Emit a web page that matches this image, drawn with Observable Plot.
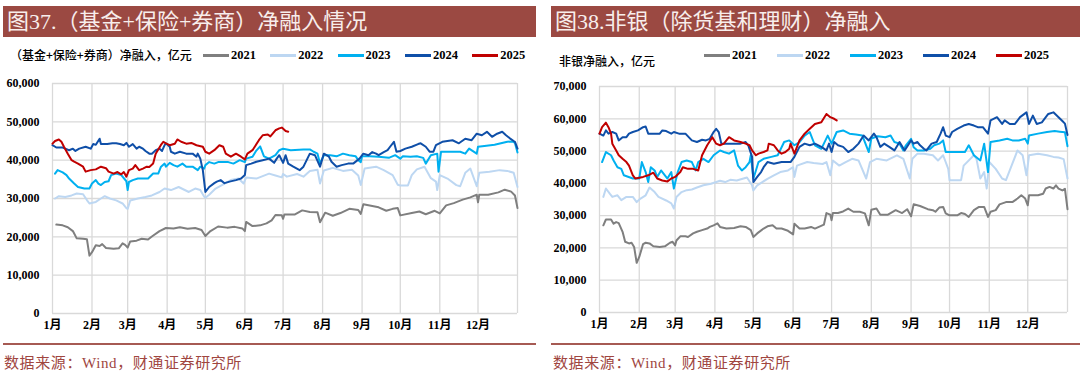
<!DOCTYPE html>
<html>
<head>
<meta charset="utf-8">
<script src="https://cdn.jsdelivr.net/npm/d3@7"></script>
<script src="https://cdn.jsdelivr.net/npm/@observablehq/plot@0.6"></script>
<style>
  html, body { margin: 0; padding: 0; background: #fff; }
  #page { position: relative; width: 1080px; height: 379px; overflow: hidden; background: #fff; }
  .bar { position: absolute; top: 6px; height: 31px; background: #9B4942; color: #F8EEEC;
         font-family: 'Liberation Serif', 'Noto Sans CJK SC', serif; font-size: 22px; line-height: 31px;
         white-space: nowrap; padding-left: 4px; box-sizing: border-box; }
  .lgtitle { position: absolute; font-family: 'Noto Sans CJK SC', sans-serif; font-size: 12px; font-weight: 500;
             color: #000; white-space: nowrap; line-height: 14px; }
  .lgitem { position: absolute; height: 14px; white-space: nowrap; }
  .lgitem .sw { position: absolute; left: 0; top: 6px; width: 26px; height: 2.5px; }
  .lgitem .tx { position: absolute; left: 28px; top: 0; font-family: 'Liberation Serif', serif; font-weight: bold;
                font-size: 12.5px; line-height: 14px; color: #000; }
  .chart { position: absolute; top: 70px; }
  .rule { position: absolute; top: 343px; height: 1.5px; background: #A65A53; }
  .src { position: absolute; top: 355px; font-family: 'Liberation Serif', 'Noto Sans CJK SC', serif; font-size: 15px;
         letter-spacing: 0.6px; color: #A0463F; white-space: nowrap; line-height: 17px; }
</style>
</head>
<body>
<div id="page"></div>
<script>
// ---------- shared labels ----------
const years = ["2021", "2022", "2023", "2024", "2025"];
const colors = ["#7F7F7F", "#BDD7F2", "#00B0F0", "#0F4FA8", "#C00000"];
const monthStarts = [0, 31, 59, 90, 120, 151, 181, 212, 243, 273, 304, 334, 365];
const monthLabels = ["1月", "2月", "3月", "4月", "5月", "6月", "7月", "8月", "9月", "10月", "11月", "12月"];
const leftTitle = "图37.（基金+保险+券商）净融入情况";
const rightTitle = "图38.非银（除货基和理财）净融入";
const leftUnit = "（基金+保险+券商）净融入，亿元";
const rightUnit = "非银净融入，亿元";
const sourceText = "数据来源：Wind，财通证券研究所";
const leftYTicks = [0, 10000, 20000, 30000, 40000, 50000, 60000];
const rightYTicks = [0, 10000, 20000, 30000, 40000, 50000, 60000, 70000];

// ---------- left chart: [day of year, 亿元] ----------
const L2021 = [[3,23200],[8,23000],[12,22500],[16,21500],[19,19600],[24,19500],[27,19400],[29,15100],[31,16000],[34,17800],[37,17600],[39,18100],[42,17100],[48,16900],[52,17000],[55,18300],[57,17900],[59,17200],[61,18800],[66,19000],[70,19500],[75,19300],[78,20100],[84,21500],[89,22300],[95,22200],[100,22500],[106,22100],[112,22300],[117,21800],[120,20200],[124,21500],[130,22700],[137,22400],[143,22600],[149,22200],[151,21500],[152,23900],[157,22800],[163,23000],[168,23500],[172,24300],[175,25700],[180,25600],[181,24700],[182,25800],[190,25800],[196,26900],[202,26500],[208,26400],[210,23800],[214,26300],[220,25500],[226,26200],[233,27300],[240,27000],[242,26000],[244,28500],[250,28100],[256,27700],[262,26800],[267,27300],[271,27500],[273,25600],[282,26200],[288,26600],[293,25900],[300,26800],[304,26100],[309,28200],[315,28800],[322,29700],[328,30300],[333,31000],[334,29000],[335,31000],[342,31000],[350,31600],[355,32300],[360,31800],[363,30800],[365,27500]];
const L2022 = [[2,30000],[5,30600],[10,30400],[15,30800],[19,31300],[24,31100],[27,29600],[29,28700],[34,29100],[38,30000],[41,30600],[45,30000],[50,29500],[55,28700],[58,27500],[59,27300],[61,29500],[67,30000],[73,30400],[78,30800],[84,31700],[88,32600],[93,32200],[99,33000],[107,31700],[112,32600],[116,32200],[119,30500],[120,30200],[123,31000],[128,32600],[133,33500],[140,34800],[146,35200],[150,33900],[152,35500],[160,35200],[170,36500],[175,36000],[180,35500],[181,36400],[184,35700],[192,36400],[197,35700],[202,37200],[208,37500],[210,33900],[213,37300],[220,38000],[228,37200],[235,37500],[240,36000],[242,33500],[245,37800],[254,38300],[260,37400],[267,36100],[271,33600],[273,33400],[279,33400],[282,36100],[286,37600],[292,38300],[297,35300],[301,34400],[302,32200],[304,36100],[310,35200],[317,33500],[320,33200],[324,36700],[328,37800],[333,33200],[335,36700],[343,37000],[351,37400],[357,37200],[362,36700],[365,33000]];
const L2023 = [[2,36500],[4,37400],[8,36800],[11,36100],[13,35200],[17,33900],[20,33000],[25,32600],[29,32600],[31,33900],[34,34800],[36,33900],[38,33500],[41,34300],[44,34500],[46,36100],[50,36500],[54,36100],[58,34500],[59,32200],[60,34300],[63,34800],[67,35200],[75,35200],[79,36500],[83,36500],[85,38200],[88,39100],[89,38300],[92,39300],[95,38700],[98,38300],[102,39100],[105,38300],[110,38300],[114,37400],[116,38300],[119,37800],[120,38700],[123,39500],[127,39100],[130,39500],[138,39500],[142,39100],[147,40000],[151,39500],[152,40400],[157,40900],[160,42500],[163,43600],[166,41000],[170,40400],[175,41300],[178,42600],[181,43000],[187,42600],[197,42800],[202,42800],[205,42200],[208,41700],[210,39100],[213,41300],[218,41300],[223,41000],[228,41700],[233,41300],[238,41000],[240,40000],[242,39500],[243,41000],[249,41000],[256,40900],[264,40600],[269,41300],[273,40400],[275,41000],[281,40900],[286,41000],[291,40600],[293,39100],[297,41300],[302,41700],[303,37000],[305,42200],[313,42200],[320,42200],[324,41700],[327,43000],[333,41700],[334,43500],[339,43700],[347,44000],[352,44400],[357,44800],[361,44900],[363,44500],[365,42000]];
const L2024 = [[0,43900],[3,43300],[8,43300],[10,43000],[13,42600],[16,43000],[18,42400],[21,43000],[26,43500],[30,43000],[32,44200],[34,44000],[37,45600],[38,44200],[43,44200],[47,44400],[50,44400],[53,44200],[56,43900],[58,44500],[60,43500],[63,44200],[66,43000],[68,43500],[71,43000],[73,42400],[76,41700],[78,41700],[81,42600],[84,43000],[86,42400],[88,43900],[89,44400],[92,43500],[93,42200],[96,41700],[100,42200],[105,41700],[110,41700],[113,40900],[114,41700],[116,40400],[118,37400],[120,31700],[123,33000],[127,34000],[129,34400],[132,34800],[135,34000],[139,34400],[144,34800],[148,35200],[151,36100],[152,38700],[156,39100],[160,39600],[165,40000],[170,40400],[174,39300],[176,40400],[178,41300],[181,39300],[183,41300],[185,39100],[189,38300],[194,37400],[197,38300],[202,41700],[206,41300],[210,38300],[213,41700],[217,40900],[219,39600],[223,38300],[227,38700],[232,39100],[236,39100],[241,40400],[244,41700],[248,41300],[251,42100],[254,41700],[256,41300],[260,42100],[263,42600],[265,43500],[268,44800],[270,42200],[273,42400],[277,43000],[282,43500],[287,44200],[289,44400],[293,43500],[296,42200],[299,42200],[301,43900],[306,44800],[314,45200],[319,44400],[324,45600],[329,45200],[333,46900],[337,46500],[341,47400],[345,46100],[349,46900],[353,47400],[356,46500],[359,45700],[362,45000],[363,44800],[365,43000]];
const L2025 = [[0,44300],[2,45000],[5,45400],[7,44800],[9,43500],[12,41700],[15,40000],[17,39600],[20,39100],[24,38300],[26,37000],[30,37400],[34,37600],[38,38300],[42,37900],[44,37000],[48,36500],[51,36900],[54,36300],[56,36900],[58,35700],[60,37400],[63,37800],[65,38700],[68,37400],[71,37800],[74,38300],[76,38200],[79,39100],[81,41700],[85,43900],[87,44800],[89,44400],[92,43900],[96,44300],[98,45400],[101,44800],[105,44300],[109,44500],[113,43900],[118,43500],[120,42200],[123,41700],[127,42600],[131,43900],[134,43500],[136,41700],[140,40900],[144,41700],[148,40900],[151,40200],[153,41700],[157,42600],[162,45200],[165,46500],[169,46700],[171,46200],[175,47800],[178,48300],[180,48500],[183,47600],[185,47400]];

// ---------- right chart: [day of year, 亿元] ----------
const R2021 = [[3,27000],[5,28800],[9,28800],[11,27500],[13,28000],[15,27700],[18,25000],[20,21900],[23,21400],[25,21600],[27,20300],[29,15400],[31,17200],[34,21200],[36,21600],[39,21400],[42,20500],[47,20300],[51,20500],[55,21600],[57,21900],[59,20800],[60,22300],[63,23600],[67,23600],[69,23400],[73,24500],[76,25000],[80,25500],[84,26000],[86,26500],[89,27000],[92,27600],[94,26500],[99,26000],[105,26200],[110,26700],[114,26500],[118,25500],[120,23400],[123,24500],[128,26000],[131,26700],[135,27000],[138,26000],[142,26000],[147,25300],[151,24200],[152,27500],[156,26000],[160,26000],[165,26500],[168,26000],[172,26700],[175,27200],[177,30800],[180,30300],[181,28600],[182,30800],[186,30800],[190,31300],[194,32200],[198,31200],[203,31200],[207,30700],[210,27000],[212,31800],[216,32200],[219,30300],[225,30300],[231,31700],[236,30800],[240,32000],[243,29800],[245,33500],[250,33000],[256,32000],[260,31700],[262,31200],[265,32500],[268,32700],[270,30700],[273,30100],[279,30100],[282,30800],[285,30500],[288,29600],[292,31700],[296,32700],[300,32700],[303,29600],[305,31200],[309,31700],[312,33500],[317,34200],[322,34200],[326,35300],[329,36300],[332,35300],[334,33200],[335,36300],[342,36300],[346,36800],[348,38400],[351,38900],[354,38400],[356,39400],[358,38400],[361,37800],[363,38300],[365,32000]];
const R2022 = [[3,35800],[5,38400],[8,36800],[10,35800],[14,36300],[17,34800],[21,35800],[26,35800],[29,34200],[32,35300],[36,36300],[39,38700],[43,37300],[46,35800],[52,34700],[56,33800],[58,32200],[60,35800],[64,37300],[68,37900],[72,38100],[76,38700],[81,39400],[87,39900],[94,40800],[98,40400],[102,41100],[107,40900],[115,41800],[119,39400],[120,37800],[123,39400],[127,40400],[131,41400],[136,42500],[141,43500],[147,44000],[151,45000],[152,42000],[154,45500],[162,46600],[167,46300],[174,46000],[177,46600],[180,42500],[182,47100],[187,45500],[192,46600],[197,47600],[202,47100],[208,41500],[211,46600],[216,47600],[224,47100],[232,48700],[237,47600],[242,41500],[244,47600],[248,49200],[253,49200],[260,48700],[264,47100],[268,48700],[272,44500],[273,41000],[282,41000],[284,45500],[292,48700],[294,47600],[297,41500],[300,43500],[302,38400],[304,46600],[309,44500],[314,41500],[317,41000],[322,46100],[326,50200],[330,48700],[333,42500],[335,48700],[342,49200],[349,48700],[354,48200],[358,48000],[362,47500],[365,41500]];
const R2023 = [[2,46600],[5,49700],[9,48700],[11,47100],[14,45000],[17,44500],[19,42500],[26,41500],[31,41500],[33,46600],[36,43500],[38,40400],[40,45000],[43,44000],[45,42000],[48,44000],[51,42500],[53,41500],[56,43500],[58,38400],[61,43500],[64,46600],[68,47100],[72,46600],[75,44000],[77,46600],[81,47600],[85,46600],[89,48700],[94,50200],[97,49700],[101,49200],[105,50200],[108,45500],[111,44000],[114,45000],[117,46600],[118,48700],[120,41500],[122,44000],[124,46600],[128,47600],[134,48200],[139,48700],[144,52800],[148,53300],[152,51800],[156,52800],[160,54800],[164,55900],[168,51800],[173,50700],[178,54800],[181,52300],[185,55900],[190,56400],[195,55400],[200,55100],[205,54800],[210,49700],[212,53900],[217,54600],[223,54300],[227,54800],[230,52800],[234,52300],[237,50200],[239,51800],[243,53800],[245,51200],[248,50200],[253,50200],[258,50700],[261,51800],[265,52300],[268,53300],[270,49700],[274,49700],[280,49700],[285,49700],[288,51800],[292,48700],[297,47100],[300,52300],[303,43500],[305,52800],[312,53300],[318,53800],[322,53300],[327,53300],[332,53800],[334,52300],[335,54800],[342,55400],[349,55900],[355,56200],[359,56000],[363,55800],[365,51500]];
const R2024 = [[0,55400],[3,54800],[5,56400],[7,55400],[10,55900],[13,55400],[15,53300],[18,54300],[21,54300],[23,55400],[26,55900],[30,56400],[34,57400],[36,57600],[38,55400],[42,55400],[47,55400],[49,56400],[52,56200],[56,55400],[58,55900],[62,55400],[67,55400],[72,53300],[76,52800],[80,53500],[83,53300],[86,53800],[89,55900],[91,56900],[93,55900],[95,52300],[98,52300],[105,52300],[110,52300],[114,52800],[116,51800],[119,48200],[120,40400],[123,42000],[126,43500],[128,45000],[131,46600],[136,46100],[142,46600],[149,46600],[152,48200],[156,51300],[160,52300],[164,51800],[168,52300],[173,51300],[177,50200],[179,52300],[181,49700],[183,52800],[186,51800],[190,51300],[194,49700],[198,50700],[202,52300],[206,54800],[210,53300],[214,55400],[216,54300],[219,51300],[222,52300],[226,51300],[230,50200],[234,52800],[238,50200],[243,53300],[245,52300],[248,52800],[250,51800],[253,50700],[255,50200],[259,52300],[263,52800],[266,55400],[268,57400],[270,54800],[273,54300],[275,55900],[279,56900],[284,57900],[288,58400],[292,57900],[295,57400],[299,57400],[303,55400],[305,59500],[310,60500],[314,58400],[316,59500],[320,58400],[324,58400],[328,60500],[333,62000],[335,58400],[338,61000],[341,58400],[345,58900],[350,61500],[354,62000],[358,60500],[361,59300],[363,58500],[365,55000]];
const R2025 = [[0,55400],[2,57400],[5,58800],[7,57400],[9,55400],[10,52300],[13,50200],[15,48700],[18,47600],[21,46600],[23,45500],[26,42500],[28,41500],[34,42000],[38,42500],[42,43300],[45,41500],[49,40900],[53,40600],[56,41500],[59,42000],[63,43500],[65,45000],[69,44500],[73,44500],[77,44000],[80,48700],[84,51800],[88,54300],[91,52300],[94,51800],[97,52300],[101,54300],[105,53300],[110,52800],[114,52300],[117,51800],[119,50200],[122,48700],[124,49200],[128,49700],[131,50200],[132,52300],[136,51800],[139,50200],[142,49200],[145,49700],[148,50700],[149,52300],[152,49200],[156,53300],[160,55400],[164,56900],[168,58400],[173,58900],[177,61500],[180,60500],[183,60000],[185,59500]];

const leftSeries = [L2021, L2022, L2023, L2024, L2025];
const rightSeries = [R2021, R2022, R2023, R2024, R2025];

const page = document.getElementById("page");

function el(cls, style, text) {
  const d = document.createElement("div");
  d.className = cls;
  Object.assign(d.style, style);
  if (text != null) d.textContent = text;
  page.appendChild(d);
  return d;
}

function makeChart(series, yTicks, margins) {
  const rows = series.flatMap((s, i) => s.map(([day, value]) => ({year: years[i], day, value})));
  return Plot.plot({
    width: 540,
    height: 270,
    ...margins,
    style: {fontFamily: "'Liberation Serif','Noto Sans CJK SC',serif", fontSize: "12px", fontWeight: "bold", color: "#000", background: "transparent", overflow: "visible"},
    x: {type: "linear", domain: [0, 365], label: null},
    y: {domain: [0, yTicks[yTicks.length - 1]], label: null},
    marks: [
      Plot.gridX(monthStarts, {stroke: "#D9D9D9", strokeOpacity: 1, strokeWidth: 1.3}),
      Plot.gridY(yTicks, {stroke: "#D9D9D9", strokeOpacity: 1, strokeWidth: 1.3}),
      Plot.axisY(yTicks, {label: null, tickSize: 0, tickPadding: 13, tickFormat: d3.format(","), fontWeight: "bold", fill: "#000"}),
      Plot.axisX(monthStarts.slice(0, 12), {label: null, tickSize: 0, tickPadding: 7, fontWeight: "bold", fill: "#000",
        tickFormat: d => monthLabels[monthStarts.indexOf(d)]}),
      ...years.map((y, i) => Plot.line(rows.filter(r => r.year === y), {
        x: "day", y: "value", stroke: colors[i], strokeWidth: 2, strokeLinejoin: "round"
      }))
    ]
  });
}

// ---------- left panel ----------
el("bar", {left: "3px", width: "533px"}, leftTitle);
el("lgtitle", {left: "10px", top: "48px"}, leftUnit);
years.forEach((y, i) => {
  const it = el("lgitem", {left: (203 + i * 67.3) + "px", top: "48px"});
  const sw = document.createElement("div"); sw.className = "sw"; sw.style.background = colors[i]; it.appendChild(sw);
  const tx = document.createElement("div"); tx.className = "tx"; tx.textContent = y; it.appendChild(tx);
});
const leftChart = makeChart(leftSeries, leftYTicks, {marginTop: 13, marginBottom: 27, marginLeft: 52, marginRight: 23});
const lc = el("chart", {left: "0px"}); lc.appendChild(leftChart);
el("rule", {left: "3px", width: "533px"});
el("src", {left: "4px"}, sourceText);

// ---------- right panel ----------
el("bar", {left: "551px", width: "529px"}, rightTitle);
el("lgtitle", {left: "559px", top: "54px"}, rightUnit);
years.forEach((y, i) => {
  const it = el("lgitem", {left: (704 + i * 73) + "px", top: "48px"});
  const sw = document.createElement("div"); sw.className = "sw"; sw.style.background = colors[i]; it.appendChild(sw);
  const tx = document.createElement("div"); tx.className = "tx"; tx.textContent = y; it.appendChild(tx);
});
const rightChart = makeChart(rightSeries, rightYTicks, {marginTop: 16, marginBottom: 28, marginLeft: 59, marginRight: 13});
const rc = el("chart", {left: "540px"}); rc.appendChild(rightChart);
el("rule", {left: "551px", width: "529px"});
el("src", {left: "553px"}, sourceText);
</script>
</body>
</html>
